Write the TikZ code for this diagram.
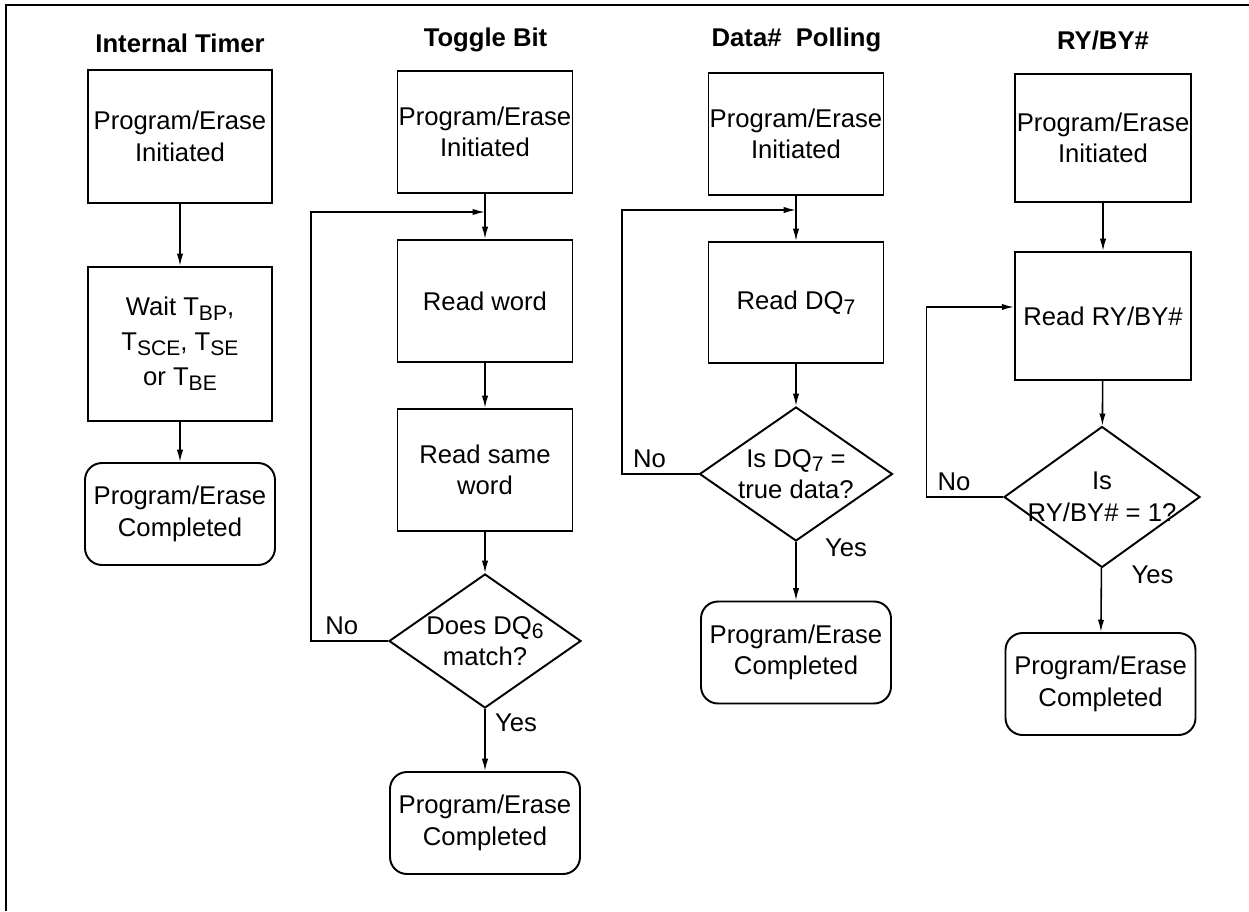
\documentclass[tikz,border=0pt]{standalone}
\usepackage{fontspec}
\setmainfont{Liberation Sans}
\usepackage{tikz}
\usetikzlibrary{positioning, shapes.geometric, arrows.meta}
\newcommand{\lowsub}[1]{\raisebox{-2.8pt}{\fontsize{12}{14}\selectfont #1}}

\begin{document}
\begin{tikzpicture}[>={Latex[length=7pt,width=3.6pt]}]
\tikzstyle{action} = [rectangle, draw=black, line width=1.1pt, align=center, inner sep=0pt, minimum width=3.50cm, minimum height=2.44cm, font=\fontsize{14.6}{18}\selectfont]
\tikzstyle{done}   = [rectangle, rounded corners=0.34cm, draw=black, line width=1.1pt, align=center, inner sep=0pt, minimum width=3.80cm, minimum height=2.04cm, font=\fontsize{14.6}{18}\selectfont]
\tikzstyle{check}  = [diamond, aspect=1.4, draw=black, line width=1.1pt, align=center, inner sep=-8pt, minimum width=3.86cm, minimum height=2.70cm, font=\fontsize{14.6}{18}\selectfont]
\tikzstyle{title}  = [font=\fontsize{14.6}{18}\selectfont\bfseries]
\tikzstyle{link}   = [line width=0.9pt, black, font=\fontsize{14.6}{18}\selectfont]
\useasboundingbox (0.00, 0.00) rectangle (24.98, -18.22);
\draw[line width=1.4pt] (0.12, -18.22) -- (0.12, -0.10) -- (24.98, -0.10);
\node[title] at (3.60, -0.86)  (it_title){Internal Timer};
\node[title] at (9.71, -0.80)  (tb_title){Toggle Bit};
\node[title] at (15.93, -0.80) (dp_title){Data\#\ \ Polling};
\node[title] at (22.06, -0.80) (rb_title){RY/BY\#};
\node[action, minimum width=3.68cm, minimum height=2.66cm] at (3.60, -2.73) (it_start){Program/Erase\\Initiated};
\node[action, minimum width=3.68cm, minimum height=3.08cm] at (3.60, -6.88) (it_wait){Wait T\lowsub{BP},\\[2pt] T\lowsub{SCE}, T\lowsub{SE}\\[2pt] or T\lowsub{BE}};
\node[done] at (3.60, -10.28) (it_done){Program/Erase\\Completed};
\node[action] at (9.70, -2.64)  (tb_start){Program/Erase\\Initiated};
\coordinate (tb_join) at (9.70, -4.24);
\node[action] at (9.70, -6.02)  (tb_read){Read word};
\node[action] at (9.70, -9.40)  (tb_again){Read same\\word};
\node[check, minimum width=3.84cm, minimum height=2.68cm] at (9.70, -12.82) (tb_dec){Does DQ\lowsub{6}\\match?};
\node[done] at (9.70, -16.46)   (tb_done){Program/Erase\\Completed};
\node[action] at (15.92, -2.68) (dp_start){Program/Erase\\Initiated};
\coordinate (dp_join) at (15.92, -4.20);
\node[action, minimum height=2.42cm] at (15.92, -6.05) (dp_read){Read DQ\lowsub{7}};
\node[check, minimum height=2.68cm] at (15.92, -9.48) (dp_dec){Is DQ\lowsub{7} =\\true data?};
\node[done] at (15.92, -13.05)  (dp_done){Program/Erase\\Completed};
\node[action, minimum width=3.52cm, minimum height=2.56cm] at (22.06, -2.76) (rb_start){Program/Erase\\Initiated};
\node[action, minimum width=3.52cm, minimum height=2.56cm] at (22.06, -6.32) (rb_read){Read RY/BY\#};
\node[check, minimum width=3.92cm, minimum height=2.82cm] at (22.04, -9.94) (rb_dec){Is\\RY/BY\# = 1?};
\node[done] at (22.01, -13.68)  (rb_done){Program/Erase\\Completed};
\draw[->, link] (it_start) -- (it_wait);
\draw[->, link] (it_wait) -- (it_done);
\draw[->, link] (tb_start) -- (tb_read);
\draw[->, link] (tb_read) -- (tb_again);
\draw[->, link] (tb_again) -- (tb_dec);
\draw[->, link] (tb_dec) -- (tb_done) node[right, pos=0.22, xshift=0.07cm] {Yes};
\draw[->, link] (tb_dec.west) -- ++(-1.54, 0) node[above, pos=0.6] {No} |- (tb_join);
\draw[->, link] (dp_start) -- (dp_read);
\draw[->, link] (dp_read) -- (dp_dec);
\draw[->, link] (dp_dec) -- (dp_done) node[right, pos=0.1, xshift=0.45cm] {Yes};
\draw[->, link] (dp_dec.west) -- ++(-1.53, 0) node[above, pos=0.64] {No} |- (dp_join);
\draw[->, link] (rb_start) -- (rb_read);
\draw[->, link] (rb_read) -- (rb_dec);
\draw[->, link] (rb_dec) -- (rb_done) node[right, pos=0.1, xshift=0.47cm] {Yes};
\draw[->, link] (rb_dec.west) -- ++(-1.53, 0) node[above, pos=0.64] {No} |- ([yshift=0.18cm]rb_read.west);
\end{tikzpicture}
\end{document}
